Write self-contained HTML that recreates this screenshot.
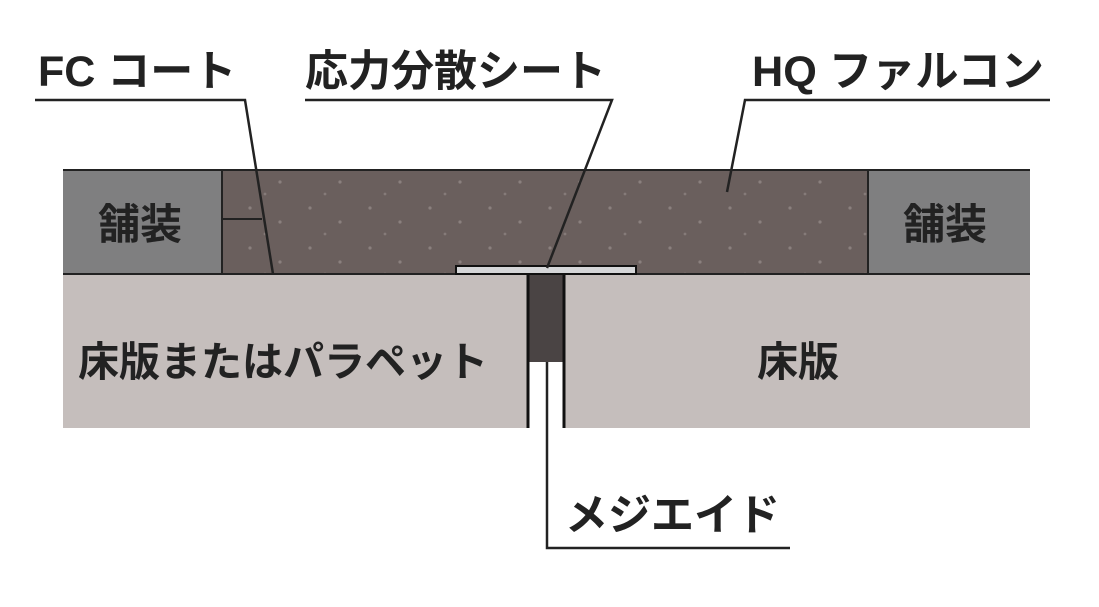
<!DOCTYPE html>
<html><head><meta charset="utf-8"><style>
html,body{margin:0;padding:0;background:#fff;}
body{width:1099px;height:602px;overflow:hidden;}
</style></head><body>
<svg width="1099" height="602" xmlns="http://www.w3.org/2000/svg" font-family="'Liberation Sans','Noto Sans CJK JP',sans-serif" font-weight="bold">
<defs>
<pattern id="dots" width="60" height="40" patternUnits="userSpaceOnUse">
<rect width="60" height="40" fill="#6a5f5d"/>
<circle cx="10" cy="8" r="1.6" fill="#8a807e"/>
<circle cx="40" cy="22" r="1.6" fill="#8a807e"/>
<circle cx="25" cy="34" r="1.4" fill="#857b79"/>
</pattern>
</defs>
<rect x="63" y="170" width="967" height="104" fill="url(#dots)"/>
<rect x="63" y="170" width="159" height="104" fill="#7f7f80"/>
<rect x="868" y="170" width="162" height="104" fill="#7f7f80"/>
<line x1="63" y1="170" x2="1030" y2="170" stroke="#222" stroke-width="2"/>
<line x1="222" y1="170" x2="222" y2="274" stroke="#222" stroke-width="2"/>
<line x1="868" y1="170" x2="868" y2="274" stroke="#222" stroke-width="2"/>
<line x1="222" y1="219" x2="262" y2="219" stroke="#222" stroke-width="2"/>
<rect x="63" y="274" width="464" height="154" fill="#c5bebc"/>
<rect x="565" y="274" width="465" height="154" fill="#c5bebc"/>
<line x1="63" y1="274" x2="1030" y2="274" stroke="#222" stroke-width="2"/>
<rect x="527" y="274" width="38" height="154" fill="#fff"/>
<rect x="528" y="274" width="36" height="88" fill="#4a4444"/>
<line x1="528" y1="274" x2="528" y2="428" stroke="#111" stroke-width="3"/>
<line x1="564" y1="274" x2="564" y2="428" stroke="#111" stroke-width="3"/>
<rect x="456" y="266" width="180" height="8" fill="#d5d6d8" stroke="#111" stroke-width="2"/>
<g stroke="#222" stroke-width="2.5" fill="none">
<polyline points="35,100 245,100 273,274"/>
<polyline points="305,100 612,100 547,268"/>
<polyline points="1050,100 745,100 727,192"/>
<polyline points="547,362 547,548 790,548"/>
</g>
<g fill="#222" font-size="43">
<text x="38" y="86">FC コート</text>
<text x="305" y="86">応力分散シート</text>
<text x="752" y="86" textLength="292" lengthAdjust="spacingAndGlyphs">HQ ファルコン</text>
<text x="565" y="530">メジエイド</text>
<text x="98" y="239" font-size="42">舗装</text>
<text x="903" y="239" font-size="42">舗装</text>
<text x="78" y="376" font-size="41">床版またはパラペット</text>
<text x="757" y="376" font-size="41">床版</text>
</g>
</svg>
</body></html>
